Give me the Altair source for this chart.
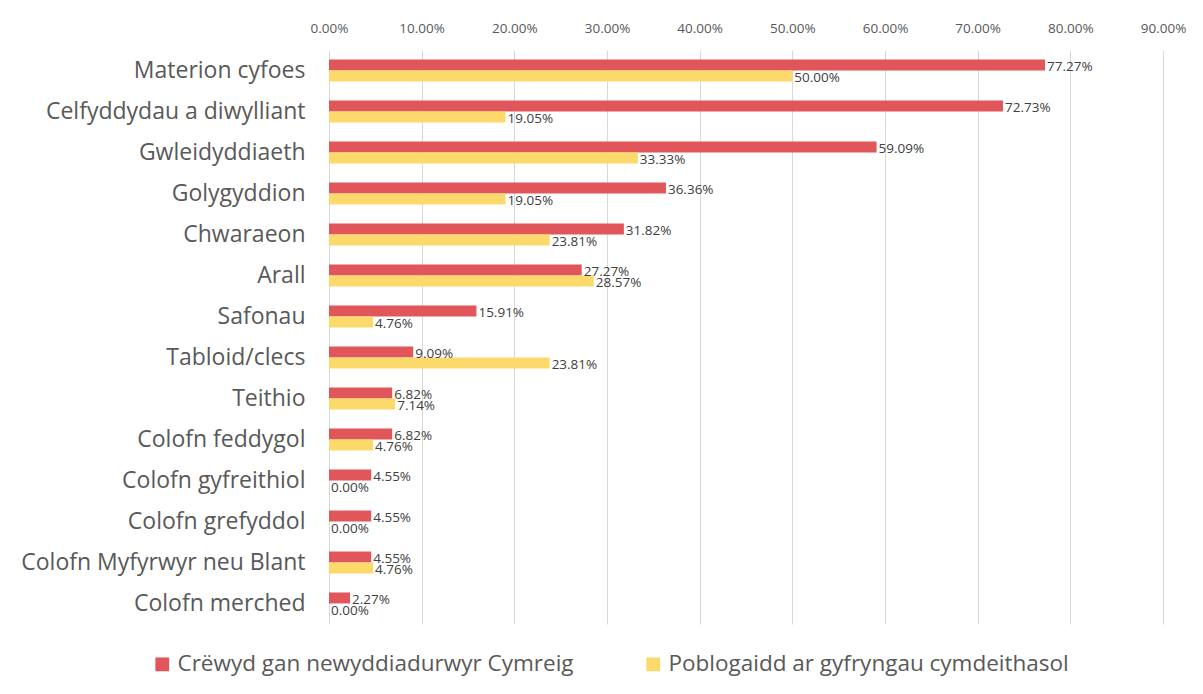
import altair as alt
import pandas as pd

categories = [
    "Materion cyfoes", "Celfyddydau a diwylliant", "Gwleidyddiaeth", "Golygyddion",
    "Chwaraeon", "Arall", "Safonau", "Tabloid/clecs", "Teithio", "Colofn feddygol",
    "Colofn gyfreithiol", "Colofn grefyddol", "Colofn Myfyrwyr neu Blant", "Colofn merched",
]
series_names = ["Crëwyd gan newyddiadurwyr Cymreig", "Poblogaidd ar gyfryngau cymdeithasol"]
welsh_journalists = [77.27, 72.73, 59.09, 36.36, 31.82, 27.27, 15.91, 9.09, 6.82, 6.82, 4.55, 4.55, 4.55, 2.27]
social_media = [50.00, 19.05, 33.33, 19.05, 23.81, 28.57, 4.76, 23.81, 7.14, 4.76, 0.00, 0.00, 4.76, 0.00]
colors = ["#E0565B", "#FBD96A"]

rows = []
for i, c in enumerate(categories):
    rows.append({"cat": c, "series": series_names[0], "val": welsh_journalists[i] / 100})
    rows.append({"cat": c, "series": series_names[1], "val": social_media[i] / 100})
df = pd.DataFrame(rows)

FONT = "Open Sans"

y = alt.Y("cat:N", sort=categories, title=None,
          scale=alt.Scale(paddingInner=0.46, paddingOuter=0.23),
          axis=alt.Axis(labelFontSize=23, labelColor="#595959", labelFont=FONT,
                        labelPadding=24, ticks=False, domain=False, labelLimit=400,
                        minExtent=321, maxExtent=321))
x = alt.X("val:Q", title=None,
          scale=alt.Scale(domain=[0, 0.9], nice=False),
          axis=alt.Axis(orient="top", format=".2%", values=[i / 10 for i in range(10)],
                        labelFontSize=13.5, labelColor="#595959", labelFont=FONT,
                        labelPadding=15, ticks=False, domain=False, labelFlush=False,
                        grid=True, gridColor="#D9D9D9", minExtent=42, maxExtent=42))
yoff = alt.YOffset("series:N", sort=series_names)
color = alt.Color("series:N", sort=series_names,
                  scale=alt.Scale(domain=series_names, range=colors),
                  legend=alt.Legend(title=None, orient="none", legendX=-178, legendY=603,
                                    direction="horizontal", columns=2, columnPadding=68,
                                    symbolType="square", symbolSize=190, symbolStrokeWidth=0,
                                    labelFontSize=22.5, labelColor="#595959", labelFont=FONT,
                                    labelLimit=500))

bars = alt.Chart(df).mark_bar(size=11).encode(y=y, x=x, yOffset=yoff, color=color)
labels = alt.Chart(df).mark_text(align="left", baseline="middle", dx=2, dy=2,
                                 fontSize=13.5, color="#404040", font=FONT).encode(
    y=y, x=x, yOffset=yoff, text=alt.Text("val:Q", format=".2%"))

chart = alt.layer(bars, labels).properties(
    width=834, height=574, padding={"left": 0, "top": 0, "right": 5, "bottom": 5}
).configure_view(stroke=None)

chart.save("out.html", embed_options={"renderer": "svg", "actions": False})
